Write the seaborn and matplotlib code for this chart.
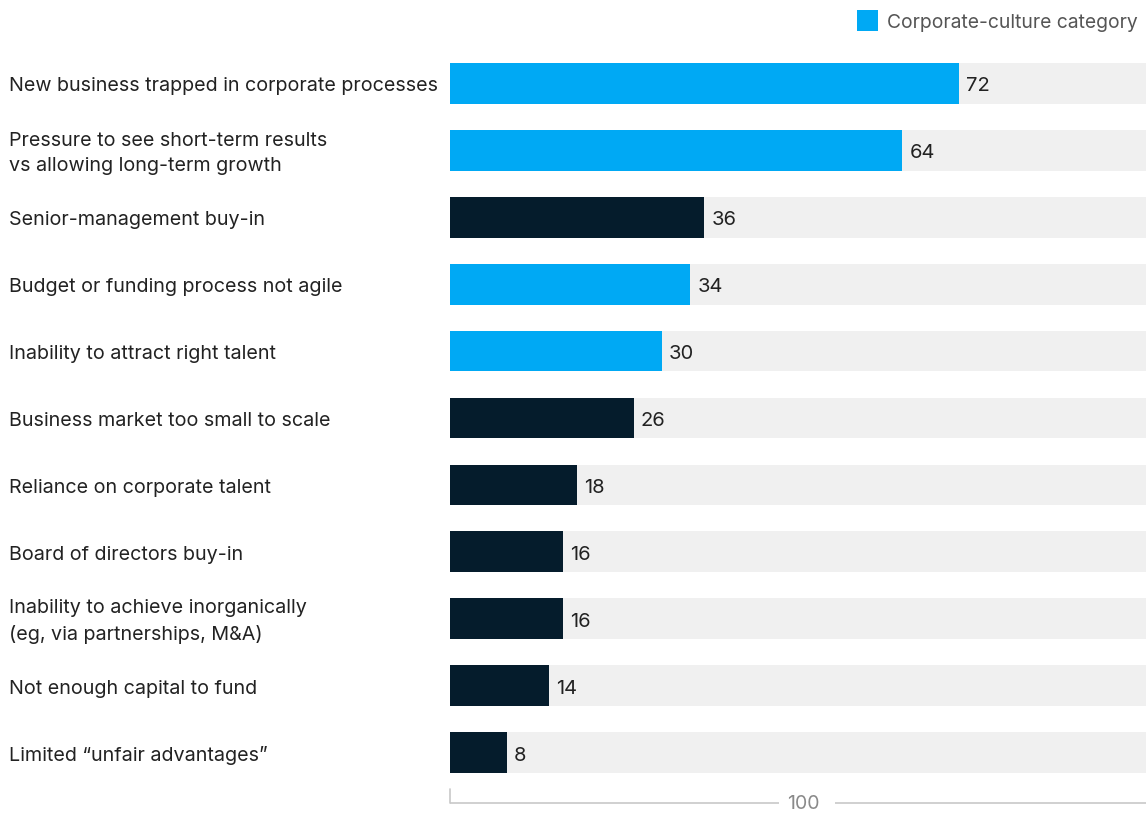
import matplotlib
matplotlib.use("Agg")
import matplotlib.pyplot as plt
import matplotlib.transforms as mtransforms
from matplotlib.patches import Rectangle
import seaborn as sns
import pandas as pd

categories = [
    "New business trapped in corporate processes",
    "Pressure to see short-term results\nvs allowing long-term growth",
    "Senior-management buy-in",
    "Budget or funding process not agile",
    "Inability to attract right talent",
    "Business market too small to scale",
    "Reliance on corporate talent",
    "Board of directors buy-in",
    "Inability to achieve inorganically\n(eg, via partnerships, M&A)",
    "Not enough capital to fund",
    "Limited \u201cunfair advantages\u201d",
]
values = [72, 64, 36, 34, 30, 26, 18, 16, 16, 14, 8]
is_culture = [True, True, False, True, True, False, False, False, False, False, False]
scale_max = 100
legend_label = "Corporate-culture category"

BLUE = "#00A9F4"
NAVY = "#051C2C"
GRAY = "#F0F0F0"

sns.set_theme(style="white")
plt.rcParams["font.family"] = ["Inter", "DejaVu Sans"]

df = pd.DataFrame({
    "category": categories,
    "value": values,
    "group": ["culture" if c else "other" for c in is_culture],
    "full": [scale_max] * len(categories),
})

W, H = 1146, 814
fig = plt.figure(figsize=(W / 100, H / 100), dpi=100)
ax_left = 450 / W
ax_top = 50.0
ax_bot = 786.0
ax = fig.add_axes([ax_left, 1 - ax_bot / H, 1 - ax_left, (ax_bot - ax_top) / H])

bw = 0.61
sns.barplot(data=df, y="category", x="full", color=GRAY, orient="h",
            width=bw, ax=ax, saturation=1, linewidth=0)
sns.barplot(data=df, y="category", x="value", hue="group",
            palette={"culture": BLUE, "other": NAVY}, orient="h",
            width=bw, dodge=False, ax=ax, saturation=1, linewidth=0, legend=False)

ax.set_xlim(0, 98.5)
ax.set_ylim(len(categories) - 0.5, -0.5)
ax.set_xlabel("")
ax.set_ylabel("")
ax.set_xticks([])
ax.set_yticks([])
for s in ax.spines.values():
    s.set_visible(False)

lab_trans = mtransforms.blended_transform_factory(fig.transFigure, ax.transData)
dy = 0.045
for i, c in enumerate(categories):
    ax.text(9 / W, i + dy, c, transform=lab_trans,
            ha="left", va="center", fontsize=14.2, color="#222222", linespacing=1.55)
    ax.text(values[i] + 1.0, i + dy, f"{values[i]}", ha="left", va="center",
            fontsize=14.5, color="#222222")

# bottom bracket
trans = mtransforms.blended_transform_factory(ax.transData, ax.transAxes)
yb = (ax_bot - 803) / (ax_bot - ax_top)
yt = (ax_bot - 789) / (ax_bot - ax_top)
lc = "#C8C8C8"
ax.plot([0, 0], [yt, yb], transform=trans, color=lc, lw=1.2, clip_on=False)
ax.plot([0, 46.5], [yb, yb], transform=trans, color=lc, lw=1.2, clip_on=False, solid_capstyle="butt")
ax.plot([54.5, 98.5], [yb, yb], transform=trans, color=lc, lw=1.2, clip_on=False, solid_capstyle="butt")
ax.text(50.0, yb - 0.002, f"{scale_max}", transform=trans, ha="center", va="center",
        fontsize=14, color="#8A8A8A")

# legend
fig.patches.append(Rectangle((857 / W, 1 - 31 / H), 21 / W, 21 / H, transform=fig.transFigure,
                             facecolor=BLUE, edgecolor="none"))
fig.text(887 / W, 1 - 23 / H, legend_label, ha="left", va="center", fontsize=13.9, color="#555555")

fig.savefig("out.png", dpi=100)
